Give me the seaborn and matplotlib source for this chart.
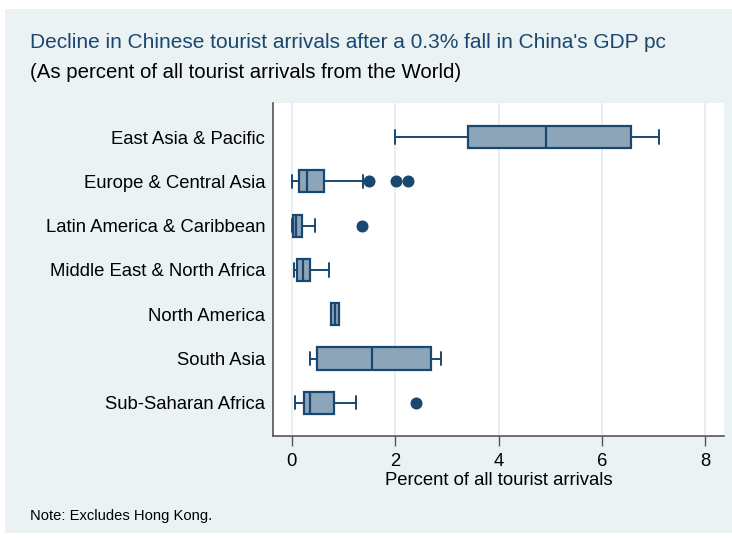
import matplotlib
matplotlib.use("Agg")
import matplotlib.pyplot as plt
import matplotlib.patches as mpatches
import seaborn as sns
import pandas as pd

# Regions, top to bottom
regions = [
    "East Asia & Pacific",
    "Europe & Central Asia",
    "Latin America & Caribbean",
    "Middle East & North Africa",
    "North America",
    "South Asia",
    "Sub-Saharan Africa",
]

# Box summary per region (percent of all tourist arrivals)
whisker_low = [1.99, 0.01, 0.00, 0.05, 0.75, 0.36, 0.06]
q1 = [3.40, 0.14, 0.03, 0.10, 0.75, 0.48, 0.23]
median = [4.91, 0.30, 0.08, 0.21, 0.84, 1.55, 0.36]
q3 = [6.56, 0.63, 0.19, 0.36, 0.92, 2.69, 0.82]
whisker_high = [7.10, 1.37, 0.44, 0.71, 0.92, 2.89, 1.24]

# Outlying countries
outlier_region = [
    "Europe & Central Asia", "Europe & Central Asia", "Europe & Central Asia",
    "Latin America & Caribbean", "Sub-Saharan Africa",
]
outlier_value = [1.49, 2.01, 2.24, 1.35, 2.40]

x_ticks = [0, 2, 4, 6, 8]

BG = "#EAF2F3"
NAVY = "#1A476F"
FILL = "#8DA5B9"

sns.set_theme(style="white")
plt.rcParams["font.family"] = ["Liberation Sans", "DejaVu Sans"]

fig = plt.figure(figsize=(7.32, 5.38), dpi=100, facecolor="white")
fig.patches.append(mpatches.Rectangle((5 / 732, 5 / 538), 727 / 732, 524 / 538,
                                      transform=fig.transFigure, facecolor=BG,
                                      edgecolor="none", zorder=-10))

ax = fig.add_axes([272.7 / 732, 1 - 436 / 538, (724 - 272.7) / 732, (436 - 103) / 538])
ax.set_facecolor("white")

stats = []
for i, r in enumerate(regions):
    stats.append(dict(label=r, whislo=whisker_low[i], q1=q1[i], med=median[i],
                      q3=q3[i], whishi=whisker_high[i], fliers=[]))

positions = list(range(len(regions)))
ax.bxp(stats, positions=positions, orientation="horizontal", widths=0.5,
       patch_artist=True, showfliers=False, capwidths=0.3,
       boxprops=dict(facecolor=FILL, edgecolor=NAVY, linewidth=1.6),
       medianprops=dict(color=NAVY, linewidth=1.6),
       whiskerprops=dict(color=NAVY, linewidth=1.4),
       capprops=dict(color=NAVY, linewidth=1.4))

out_df = pd.DataFrame({"region": outlier_region, "value": outlier_value})
out_df["pos"] = out_df["region"].map({r: i for i, r in enumerate(regions)})
sns.scatterplot(data=out_df, x="value", y="pos", ax=ax, color=NAVY, s=75,
                edgecolor=NAVY, linewidth=0, zorder=5, legend=False)

ax.set_xlim(-0.37, 8.36)
ax.set_ylim(6.75, -0.77)
ax.set_xticks(x_ticks)
ax.set_xticklabels([str(t) for t in x_ticks])
ax.set_yticks(positions)
ax.set_yticklabels(regions)
ax.xaxis.grid(True, color="#E4ECF0", linewidth=1.2)
ax.yaxis.grid(False)
ax.set_axisbelow(True)

for s in ["top", "right"]:
    ax.spines[s].set_visible(False)
for s in ["left", "bottom"]:
    ax.spines[s].set_color("#555555")
    ax.spines[s].set_linewidth(1.2)

ax.tick_params(axis="x", which="both", bottom=True, length=7, width=1,
               color="#555555", labelsize=13.3, pad=5, labelcolor="black")
ax.tick_params(axis="y", which="both", left=False, length=0, labelsize=13.3,
               pad=5.5, labelcolor="black")
ax.set_xlabel("Percent of all tourist arrivals", fontsize=13.3, color="black",
              labelpad=2)
ax.set_ylabel("")

fig.text(30 / 732, 1 - 43 / 538, "Decline in Chinese tourist arrivals after a 0.3% fall in China's GDP pc",
         fontsize=15, color=NAVY, va="center", ha="left")
fig.text(30 / 732, 1 - 72 / 538, "(As percent of all tourist arrivals from the World)",
         fontsize=14.7, color="black", va="center", ha="left")
fig.text(30 / 732, 1 - 516 / 538, "Note: Excludes Hong Kong.", fontsize=10.6,
         color="black", va="center", ha="left")

fig.savefig("out.png", dpi=100, facecolor="white")
